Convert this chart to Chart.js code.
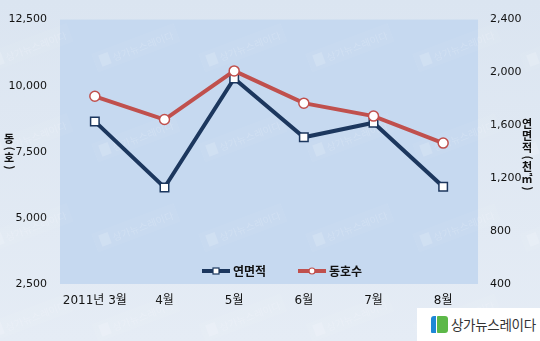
<!DOCTYPE html>
<html lang="ko">
<head>
  <meta charset="UTF-8">
  <title>연면적 / 동호수</title>
  <style>
    body {
      margin: 0;
      padding: 0;
      width: 540px;
      height: 341px;
      overflow: hidden;
      background: linear-gradient(#dbe5f1, #e5ecf5);
      font-family: 'DejaVu Sans', 'Noto Sans CJK KR', sans-serif;
    }
    .wrap {
      position: relative;
      width: 540px;
      height: 341px;
    }
    canvas {
      position: absolute;
      left: 0;
      top: 0;
    }
    .logo {
      position: absolute;
      left: 417px;
      top: 308px;
      width: 123px;
      height: 33px;
      background: #fff;
    }
    .logo .icon-b {
      position: absolute;
      left: 14px;
      top: 8px;
      width: 5px;
      height: 17px;
      background: #1e88d6;
      border-radius: 3px 0 0 1px;
    }
    .logo .icon-g {
      position: absolute;
      left: 20px;
      top: 8px;
      width: 11px;
      height: 17px;
      background: #5cb848;
      border-radius: 1px 3px 3px 1px;
    }
    .logo span {
      position: absolute;
      left: 34px;
      top: 6px;
      white-space: nowrap;
      font-family: 'Noto Sans CJK KR', sans-serif;
      font-size: 13.5px;
      letter-spacing: -0.3px;
      color: #333;
      line-height: 20px;
    }
  </style>
  <script src="https://cdn.jsdelivr.net/npm/chart.js"></script>
</head>
<body>
  <div class="wrap">
    <canvas id="mainChart" width="540" height="341"></canvas>
    <div class="logo"><div class="icon-b"></div><div class="icon-g"></div><span>상가뉴스레이다</span></div>
  </div>

  <script>
    const months = ['2011년 3월', '4월', '5월', '6월', '7월', '8월'];
    const areaValues = [1630, 1130, 1955, 1510, 1620, 1135];      // 연면적 (천㎡), right axis
    const unitValues = [9600, 8720, 10560, 9340, 8850, 7830];     // 동호수 (호), left axis
    const leftTicks = [2500, 5000, 7500, 10000, 12500];
    const rightTicks = [400, 800, 1200, 1600, 2000, 2400];
    const leftTitle = '동(호)';
    const rightTitle = '연면적(천㎡)';

    const navy = '#1c375e';
    const red = '#c0504d';
    const tickFont = { family: "'DejaVu Sans', 'Noto Sans CJK KR', sans-serif", size: 11 };

    // plot area fill + faint watermarks
    const backdrop = {
      id: 'backdrop',
      beforeDraw(chart) {
        const { ctx, chartArea: a } = chart;
        ctx.save();
        ctx.fillStyle = '#c6d9f0';
        ctx.fillRect(a.left, a.top, a.right - a.left, a.bottom - a.top);
        ctx.restore();
      },
      beforeDatasetsDraw(chart) {
        const ctx = chart.ctx;
        ctx.save();
        ctx.font = "10px 'Noto Sans CJK KR', sans-serif";
        for (let y = -27; y < 380; y += 90) {
          for (let x = -6; x < 560; x += 107) {
            ctx.save();
            ctx.translate(x, y);
            ctx.rotate(-0.36);
            ctx.fillStyle = 'rgba(255,255,255,0.05)';
            ctx.fillRect(-6, -12, 88, 20);
            ctx.fillStyle = 'rgba(255,255,255,0.16)';
            ctx.fillRect(0, -8, 10, 12);
            ctx.fillText('상가뉴스레이다', 13, 3);
            ctx.restore();
          }
        }
        ctx.restore();
      }
    };

    // stacked vertical axis titles, parentheses turned sideways
    function drawVertical(ctx, text, cx, top) {
      let y = top;
      for (const ch of text) {
        const paren = ch === '(' || ch === ')';
        const h = paren ? 7 : 12;
        ctx.save();
        ctx.translate(cx, y + h / 2);
        if (paren) ctx.rotate(Math.PI / 2);
        ctx.fillText(ch, 0, 0);
        ctx.restore();
        y += h;
      }
    }

    const axisTitles = {
      id: 'axisTitles',
      afterDraw(chart) {
        const ctx = chart.ctx;
        ctx.save();
        ctx.fillStyle = '#111';
        ctx.font = "bold 11px 'Noto Sans CJK KR', sans-serif";
        ctx.textAlign = 'center';
        ctx.textBaseline = 'middle';
        drawVertical(ctx, leftTitle, 9, 133);
        drawVertical(ctx, rightTitle, 527, 118);
        ctx.restore();
      }
    };

    // legend drawn inside the plot area, bottom centre
    const innerLegend = {
      id: 'innerLegend',
      afterDraw(chart) {
        const ctx = chart.ctx;
        const y = 271;
        const items = [
          { x: 202, ds: chart.data.datasets[0] },
          { x: 298, ds: chart.data.datasets[1] }
        ];
        ctx.save();
        items.forEach(it => {
          ctx.strokeStyle = it.ds.borderColor;
          ctx.lineWidth = 4;
          ctx.beginPath();
          ctx.moveTo(it.x, y);
          ctx.lineTo(it.x + 28, y);
          ctx.stroke();
          ctx.fillStyle = '#fff';
          ctx.lineWidth = 1.2;
          if (it.ds.pointStyle === 'rect') {
            ctx.fillRect(it.x + 11, y - 3, 6, 6);
            ctx.strokeRect(it.x + 11, y - 3, 6, 6);
          } else {
            ctx.beginPath();
            ctx.arc(it.x + 14, y, 3, 0, Math.PI * 2);
            ctx.fill();
            ctx.stroke();
          }
          ctx.fillStyle = '#111';
          ctx.font = "bold 12px 'Noto Sans CJK KR', sans-serif";
          ctx.textBaseline = 'middle';
          ctx.fillText(it.ds.label, it.x + 31, y);
        });
        ctx.restore();
      }
    };

    const ctx = document.getElementById('mainChart').getContext('2d');
    const mainChart = new Chart(ctx, {
      type: 'line',
      data: {
        labels: months,
        datasets: [{
          label: '연면적',
          data: areaValues,
          yAxisID: 'y1',
          borderColor: navy,
          borderWidth: 4,
          pointStyle: 'rect',
          pointRadius: 6,
          pointBackgroundColor: '#fff',
          pointBorderColor: navy,
          pointBorderWidth: 1.5,
          order: 1
        }, {
          label: '동호수',
          data: unitValues,
          yAxisID: 'y',
          borderColor: red,
          borderWidth: 4,
          pointStyle: 'circle',
          pointRadius: 5,
          pointBackgroundColor: '#fff',
          pointBorderColor: red,
          pointBorderWidth: 1.5,
          order: 0
        }]
      },
      options: {
        responsive: false,
        animation: false,
        layout: { padding: { top: 15, left: 0, right: 0, bottom: 0 } },
        scales: {
          x: {
            offset: true,
            grid: { display: false, drawTicks: false },
            border: { display: false },
            ticks: { color: '#111', font: { family: "'DejaVu Sans', 'Noto Sans CJK KR', sans-serif", size: 12 }, padding: 10, maxRotation: 0 },
            afterFit(scale) { scale.height = 57; }
          },
          y: {
            position: 'left',
            min: 2500,
            max: 12500,
            grid: { display: false, drawTicks: false },
            border: { display: false },
            afterBuildTicks(scale) { scale.ticks = leftTicks.map(v => ({ value: v })); },
            ticks: { color: '#111', font: tickFont, padding: 13, callback: v => v.toLocaleString('en-US') },
            afterFit(scale) { scale.width = 60; }
          },
          y1: {
            position: 'right',
            min: 400,
            max: 2400,
            grid: { display: false, drawTicks: false },
            border: { display: false },
            afterBuildTicks(scale) { scale.ticks = rightTicks.map(v => ({ value: v })); },
            ticks: { color: '#111', font: tickFont, padding: 12, callback: v => v.toLocaleString('en-US') },
            afterFit(scale) { scale.width = 62; }
          }
        },
        plugins: {
          legend: { display: false },
          tooltip: { enabled: false }
        }
      },
      plugins: [backdrop, axisTitles, innerLegend]
    });
  </script>
</body>
</html>
